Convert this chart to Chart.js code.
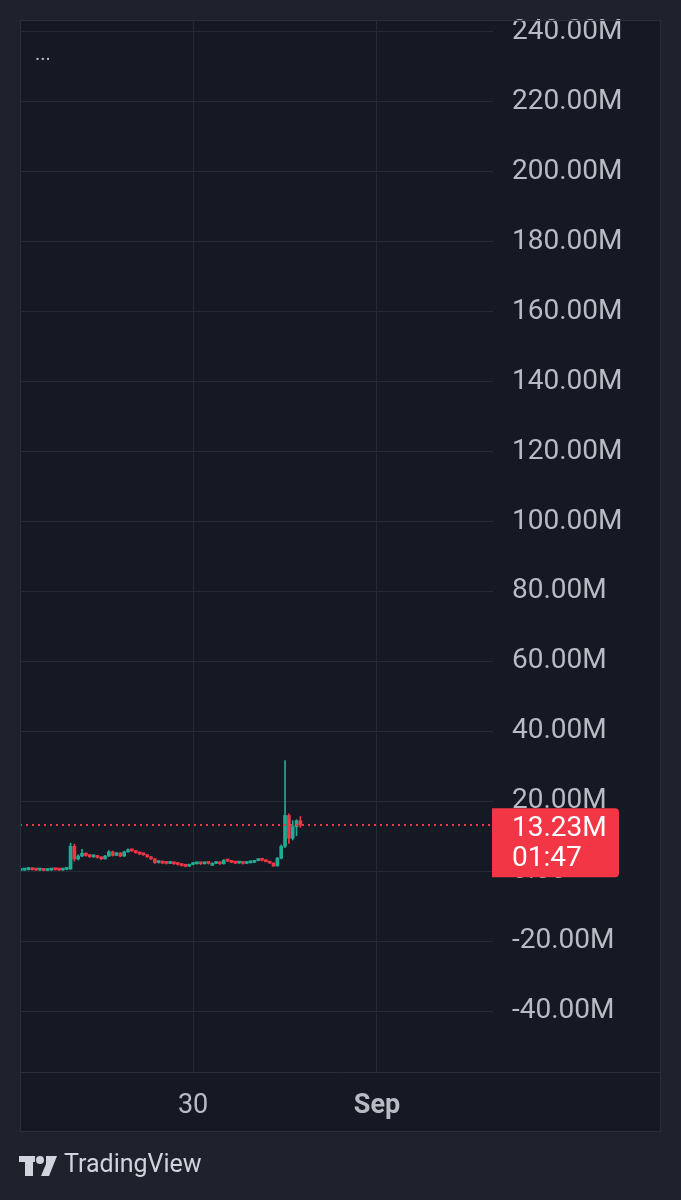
<!DOCTYPE html>
<html><head><meta charset="utf-8">
<script src="https://cdn.jsdelivr.net/npm/chart.js@4"></script>
<style>html,body{margin:0;padding:0;background:#1e222d;}canvas{display:block;}</style>
</head><body>
<canvas id="c" width="681" height="1200"></canvas>
<script>
// hours relative to Aug 30 00:00 (hourly candles), values in millions
const hours = [-45,-44,-43,-42,-41,-40,-39,-38,-37,-36,-35,-34,-33,
  -32,-31,-30,-29,-28,-27,-26,-25,-24,-23,-22,-21,-20,-19,-18,-17,-16,-15,-14,-13,-12,-11,-10,
  -9,-8,-7,-6,-5,-4,-3,-2,-1,
  0,1,2,3,4,5,6,7,8,9,10,11,12,13,14,15,16,17,18,19,20,21,22,23,
  24,25,26,27,28];
const opens = [0.3,0.4,0.5,0.9,0.5,0.4,0.5,0.3,0.4,0.6,0.5,0.4,0.6,
  0.7,7.2,3.6,4.4,5.2,4.6,4.2,4.5,4.0,3.6,4.4,5.6,4.6,5.3,4.4,5.6,6.2,5.9,5.4,5.0,4.8,4.2,3.6,
  2.5,2.9,2.4,2.3,2.6,2.2,2.0,1.7,1.5,
  2.0,2.2,2.3,2.2,2.4,2.3,2.3,2.5,2.2,3.2,3.0,2.6,2.4,2.6,2.3,2.5,2.6,3.1,3.3,3.2,2.8,2.4,1.6,3.8,
  7.2,16.0,9.5,12.8,14.5];
const highs = [0.5,0.6,1.2,1.0,0.6,0.6,0.6,0.5,0.7,0.7,0.6,0.7,0.8,
  8.1,7.8,4.8,6.3,5.4,4.9,4.7,4.6,4.2,4.6,6.0,5.8,5.5,5.4,5.8,6.5,6.3,6.0,5.6,5.2,4.9,4.3,3.7,
  3.1,3.0,2.6,2.8,2.7,2.3,2.1,1.8,2.1,
  2.4,2.5,2.4,2.6,2.5,2.5,2.7,2.6,3.4,3.3,3.1,2.7,2.8,2.7,2.6,2.8,3.2,3.5,3.4,3.3,2.9,2.5,4.0,7.6,
  31.7,16.5,14.5,14.8,15.7];
const lows = [0.2,0.3,0.4,0.4,0.3,0.3,0.2,0.2,0.3,0.4,0.3,0.3,0.5,
  0.6,3.0,3.3,4.2,4.4,4.0,4.0,3.8,3.4,3.5,4.3,4.4,4.5,4.2,4.3,5.5,5.7,5.2,4.8,4.6,4.0,3.4,2.3,
  2.4,2.2,2.1,2.2,2.0,1.8,1.5,1.3,1.4,
  1.9,2.1,2.0,2.1,2.1,2.2,2.2,2.0,2.1,2.8,2.5,2.2,2.3,2.1,2.2,2.4,2.5,3.0,3.0,2.7,2.3,1.4,1.5,3.6,
  6.8,8.0,9.0,10.2,12.6];
const closes = [0.4,0.5,0.9,0.5,0.4,0.5,0.3,0.4,0.6,0.5,0.4,0.6,0.7,
  7.2,3.6,4.4,5.2,4.6,4.2,4.5,4.0,3.6,4.4,5.6,4.6,5.3,4.4,5.6,6.2,5.9,5.4,5.0,4.8,4.2,3.6,2.5,
  2.9,2.4,2.3,2.6,2.2,2.0,1.7,1.5,2.0,
  2.2,2.3,2.2,2.4,2.3,2.3,2.5,2.2,3.2,3.0,2.6,2.4,2.6,2.3,2.5,2.6,3.1,3.3,3.2,2.8,2.4,1.6,3.8,7.2,
  16.0,9.5,12.8,14.5,13.23];

const yTickValues = [-40,-20,0,20,40,60,80,100,120,140,160,180,200,220,240];
const yTickLabels = ['-40.00M','-20.00M','0.00','20.00M','40.00M','60.00M','80.00M','100.00M','120.00M','140.00M','160.00M','180.00M','200.00M','220.00M','240.00M'];
const xTickValues = [0,48];
const xTickLabels = ['30','Sep'];
const lastPriceLabel = '13.23M';
const countdownLabel = '01:47';

const UP = '#22ab94', DOWN = '#f23645';
const GRID = '#262a35';
const TXT = '#b8bbc3';
const FONT = 'Roboto, "Liberation Sans", sans-serif';
const candleColor = (ctx) => closes[ctx.dataIndex] >= opens[ctx.dataIndex] ? UP : DOWN;

const decor = {
  id: 'decor',
  beforeDraw(chart) {
    const c = chart.ctx;
    c.save();
    c.fillStyle = '#1e222d'; c.fillRect(0, 0, 681, 1200);
    c.fillStyle = '#151924'; c.fillRect(20, 20, 641, 1112);
    c.restore();
  },
  afterDatasetsDraw(chart) {
    const c = chart.ctx, a = chart.chartArea, ys = chart.scales.y;
    const y = Math.round(ys.getPixelForValue(closes[closes.length - 1]));
    c.save();
    c.strokeStyle = DOWN; c.lineWidth = 2; c.setLineDash([2, 4]);
    c.beginPath(); c.moveTo(a.left, y); c.lineTo(a.right, y); c.stroke();
    c.restore();
  },
  afterDraw(chart) {
    const c = chart.ctx, a = chart.chartArea, ys = chart.scales.y;
    c.save();
    c.strokeStyle = '#2a2e39'; c.lineWidth = 1;
    c.strokeRect(20.5, 20.5, 640, 1111);
    c.beginPath(); c.moveTo(20, a.bottom + 0.5); c.lineTo(661, a.bottom + 0.5); c.stroke();
    c.fillStyle = TXT; c.font = '20px ' + FONT; c.textBaseline = 'middle'; c.textAlign = 'left';
    c.fillText('...', 35, 55);
    const y = ys.getPixelForValue(closes[closes.length - 1]);
    const bx = 492, by = y - 17, bw = 127, bh = 69;
    c.fillStyle = DOWN;
    c.beginPath();
    if (c.roundRect) c.roundRect(bx, by, bw, bh, [0, 4, 4, 0]); else c.rect(bx, by, bw, bh);
    c.fill();
    c.fillStyle = '#ffffff'; c.font = '28px ' + FONT; c.textAlign = 'left'; c.textBaseline = 'middle';
    c.fillText(lastPriceLabel, 512, y + 4);
    c.fillText(countdownLabel, 512, y + 34);
    c.fillStyle = '#d1d4dc';
    c.fillRect(19, 1156, 16, 6);
    c.fillRect(25, 1156, 8, 20);
    c.beginPath(); c.arc(40, 1160, 4, 0, Math.PI * 2); c.fill();
    c.beginPath(); c.moveTo(46, 1156); c.lineTo(57, 1156); c.lineTo(49, 1176); c.lineTo(41, 1176); c.lineTo(46, 1164); c.closePath(); c.fill();
    c.font = '25px ' + FONT; c.textBaseline = 'middle';
    c.fillText('TradingView', 64, 1166);
    c.restore();
  }
};

new Chart(document.getElementById('c'), {
  type: 'bar',
  data: {
    datasets: [
      {
        label: 'wick',
        data: hours.map((h, i) => ({ x: h, y: [lows[i], highs[i]] })),
        backgroundColor: candleColor,
        barThickness: 1,
        grouped: false,
        minBarLength: 1,
        order: 2
      },
      {
        label: 'body',
        data: hours.map((h, i) => ({ x: h, y: [opens[i], closes[i]] })),
        backgroundColor: candleColor,
        barThickness: 3,
        grouped: false,
        minBarLength: 2,
        order: 1
      }
    ]
  },
  options: {
    responsive: false,
    animation: false,
    devicePixelRatio: 1,
    layout: { padding: { left: 20, top: 20, right: 20, bottom: 68 } },
    plugins: { legend: { display: false }, tooltip: { enabled: false } },
    scales: {
      x: {
        type: 'linear',
        offset: false,
        min: -45.2, max: 78.3,
        afterBuildTicks: (s) => { s.ticks = xTickValues.map(v => ({ value: v })); },
        afterFit: (s) => { s.height = 60; s.paddingLeft = 0; s.paddingRight = 0; },
        ticks: {
          color: TXT,
          padding: 18,
          maxRotation: 0,
          autoSkip: false,
          callback: (v) => xTickLabels[xTickValues.indexOf(v)],
          font: (ctx) => ({ family: FONT, size: 27, weight: (ctx.tick && ctx.tick.label === 'Sep') ? 'bold' : 'normal' })
        },
        grid: { color: GRID, drawTicks: false, offset: false },
        border: { display: false }
      },
      y: {
        position: 'right',
        min: -57.3, max: 243.3,
        afterBuildTicks: (s) => { s.ticks = yTickValues.map(v => ({ value: v })); },
        afterFit: (s) => { s.width = 168; s.paddingTop = 0; s.paddingBottom = 0; },
        ticks: {
          color: TXT,
          padding: 19,
          autoSkip: false,
          callback: (v) => yTickLabels[yTickValues.indexOf(v)],
          font: { family: FONT, size: 28 }
        },
        grid: { color: GRID, drawTicks: false },
        border: { display: false }
      }
    }
  },
  plugins: [decor]
});
</script>
</body></html>
